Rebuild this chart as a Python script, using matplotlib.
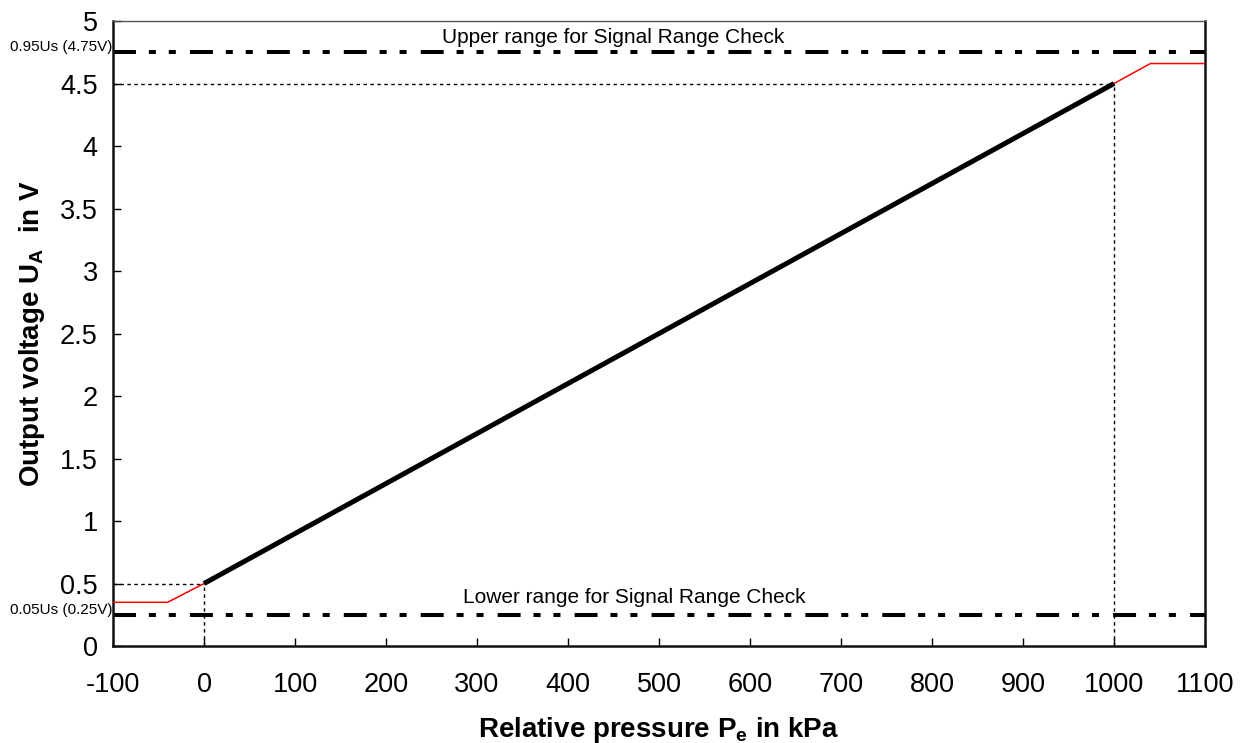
import matplotlib
matplotlib.use("Agg")
import matplotlib.pyplot as plt

plt.rcParams['font.family'] = ['Liberation Sans', 'DejaVu Sans']
plt.rcParams['mathtext.fontset'] = 'custom'
plt.rcParams['mathtext.rm'] = 'Liberation Sans'
plt.rcParams['mathtext.bf'] = 'Liberation Sans:bold'

# Data
linear_p = [0, 1000]
linear_u = [0.5, 4.5]
low_clamp_p = [-100, -40, 0]
low_clamp_u = [0.35, 0.35, 0.5]
high_clamp_p = [1000, 1040, 1100]
high_clamp_u = [4.5, 4.66, 4.66]
upper_src = 4.75
lower_src = 0.25
x_ticks = list(range(-100, 1101, 100))
y_ticks = [0, 0.5, 1, 1.5, 2, 2.5, 3, 3.5, 4, 4.5, 5]
y_tick_labels = ['0', '0.5', '1', '1.5', '2', '2.5', '3', '3.5', '4', '4.5', '5']

fig = plt.figure(figsize=(12.46, 7.43), dpi=100)
ax = fig.add_axes([0.0907, 0.1305, 0.8764, 0.8412])
ax.set_xlim(-100, 1100)
ax.set_ylim(0, 5)

# range check lines
dash = (0, (5.7, 3.2, 1.75, 3.2, 1.75, 3.5))
for yv in (upper_src, lower_src):
    ax.plot([-100, 1100], [yv, yv], color='black', lw=2.9, linestyle=dash,
            dash_capstyle='butt', zorder=2)

# dotted guides
dot = (0, (2.5, 2.5))
ax.plot([-100, 0], [0.5, 0.5], color='black', lw=1.0, linestyle=dot, zorder=2)
ax.plot([0, 0], [0, 0.5], color='black', lw=1.0, linestyle=dot, zorder=2)
ax.plot([-100, 1000], [4.5, 4.5], color='black', lw=1.0, linestyle=dot, zorder=2)
ax.plot([1000, 1000], [0, 4.5], color='black', lw=1.0, linestyle=dot, zorder=2)

# curves
ax.plot(low_clamp_p, low_clamp_u, color='#ff0000', lw=1.1, zorder=3)
ax.plot(high_clamp_p, high_clamp_u, color='#ff0000', lw=1.1, zorder=3)
ax.plot(linear_p, linear_u, color='black', lw=3.6, solid_capstyle='butt', zorder=4)

# texts
ax.text(450, 4.865, 'Upper range for Signal Range Check', ha='center', va='center', fontsize=15)
ax.text(473, 0.39, 'Lower range for Signal Range Check', ha='center', va='center', fontsize=15)
ax.text(-101, upper_src + 0.04, '0.95Us (4.75V)', ha='right', va='center', fontsize=11, clip_on=False)
ax.text(-101, lower_src + 0.04, '0.05Us (0.25V)', ha='right', va='center', fontsize=11, clip_on=False)

ax.set_xticks(x_ticks)
ax.set_xticklabels([str(v) for v in x_ticks])
ax.set_yticks(y_ticks)
ax.set_yticklabels(y_tick_labels)
ax.tick_params(axis='x', direction='in', length=6, width=1, labelsize=19.5, pad=19)
ax.tick_params(axis='y', direction='in', length=6, width=1, labelsize=19.5, pad=11)

for s in ('left', 'bottom', 'right'):
    ax.spines[s].set_linewidth(1.8)
    ax.spines[s].set_color('#111111')
ax.spines['top'].set_linewidth(1.0)
ax.spines['top'].set_color('#555555')

ax.set_xlabel(r'Relative pressure P$_{\mathbf{e}}$ in kPa', fontsize=20, fontweight='bold', labelpad=12)
ax.set_ylabel(r'Output voltage U$_{\mathbf{A}}$  in V', fontsize=20, fontweight='bold', labelpad=9)

fig.savefig('out.png', dpi=100)
